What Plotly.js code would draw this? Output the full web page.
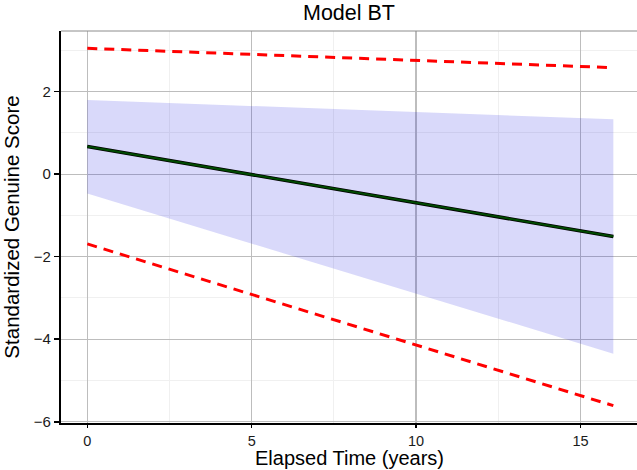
<!DOCTYPE html>
<html>
<head>
<meta charset="utf-8">
<script src="https://cdn.plot.ly/plotly-3.0.1.min.js"></script>
<style>html,body{margin:0;padding:0;background:#fff;}#chart{width:637px;height:470px;}</style>
</head>
<body>
<div id="chart"></div>
<script>
// Data
const elapsedYears = [0, 16];
const fittedScore = [0.67, -1.51];
const confLower = [-0.47, -4.35];
const confUpper = [1.80, 1.33];
const predLower = [-1.69, -5.61];
const predUpper = [3.05, 2.58];
const xTickVals = [0, 5, 10, 15];
const yTickVals = [-6, -4, -2, 0, 2];
const yTickText = ['\u22126', '\u22124', '\u22122', '0', '2'];
const xTitle = 'Elapsed Time (years)';

const traces = [
  {x: elapsedYears, y: confLower, mode: 'lines', line: {width: 0, color: 'rgba(0,0,0,0)'}, hoverinfo: 'skip', showlegend: false},
  {x: elapsedYears, y: confUpper, mode: 'lines', line: {width: 0, color: 'rgba(0,0,0,0)'}, fill: 'tonexty', fillcolor: 'rgba(20,20,225,0.16)', showlegend: false},
  {x: elapsedYears, y: predUpper, mode: 'lines', line: {color: '#ff0000', width: 3, dash: '10px,7px'}, showlegend: false},
  {x: elapsedYears, y: predLower, mode: 'lines', line: {color: '#ff0000', width: 3, dash: '10px,7px'}, showlegend: false},
  {x: elapsedYears, y: fittedScore, mode: 'lines', line: {color: '#000000', width: 3.6}, showlegend: false},
  {x: elapsedYears, y: fittedScore, mode: 'lines', line: {color: '#004a00', width: 2}, showlegend: false}
];

const fontFam = 'Liberation Sans, Arial, sans-serif';
const layout = {
  width: 637, height: 470,
  margin: {l: 61, r: 0, t: 31, b: 47, pad: 0},
  paper_bgcolor: '#ffffff', plot_bgcolor: '#ffffff',
  font: {family: fontFam, color: '#1a1a1a'},
  title: {text: 'Model BT', font: {size: 21.5, color: '#000'}, x: 0.5, xref: 'paper', xanchor: 'center', y: 0.974, yref: 'container', yanchor: 'middle'},
  xaxis: {
    range: [-0.8, 16.72], tickvals: xTickVals, ticktext: xTickVals.map(String),
    showgrid: true, gridcolor: '#bdbdbd', gridwidth: 1.2,
    minor: {dtick: 2.5, tick0: 0, showgrid: true, gridcolor: '#f0f0f0', gridwidth: 1, ticks: ''},
    zeroline: false, showline: true, linecolor: '#000', linewidth: 2.2,
    ticks: 'outside', ticklen: 3, tickwidth: 1.5, tickcolor: '#000',
    tickfont: {size: 14.5, color: '#1a1a1a'}
  },
  yaxis: {
    range: [-6.03, 3.47], tickvals: yTickVals, ticktext: yTickText,
    showgrid: true, gridcolor: '#bdbdbd', gridwidth: 1.2,
    minor: {dtick: 1, tick0: 0, showgrid: true, gridcolor: '#f0f0f0', gridwidth: 1, ticks: ''},
    zeroline: false, showline: true, linecolor: '#000', linewidth: 2.2,
    ticks: 'outside', ticklen: 5, tickwidth: 1.5, tickcolor: '#000',
    tickfont: {size: 15, color: '#1a1a1a'},
    title: {text: 'Standardized Genuine Score', font: {size: 20.5, color: '#000'}}
  },
  annotations: [
    {text: xTitle, xref: 'paper', yref: 'paper', x: 0.5, y: 0, xanchor: 'center', yanchor: 'top', yshift: -23, showarrow: false, borderpad: 0, font: {size: 20, color: '#000'}}
  ],
  shapes: [
    {type: 'line', xref: 'paper', yref: 'paper', x0: 0, x1: 1, y0: 1, y1: 1, line: {color: '#8c8c8c', width: 1}}
  ],
  showlegend: false
};

Plotly.newPlot('chart', traces, layout, {displayModeBar: false, staticPlot: true});
</script>
</body>
</html>
